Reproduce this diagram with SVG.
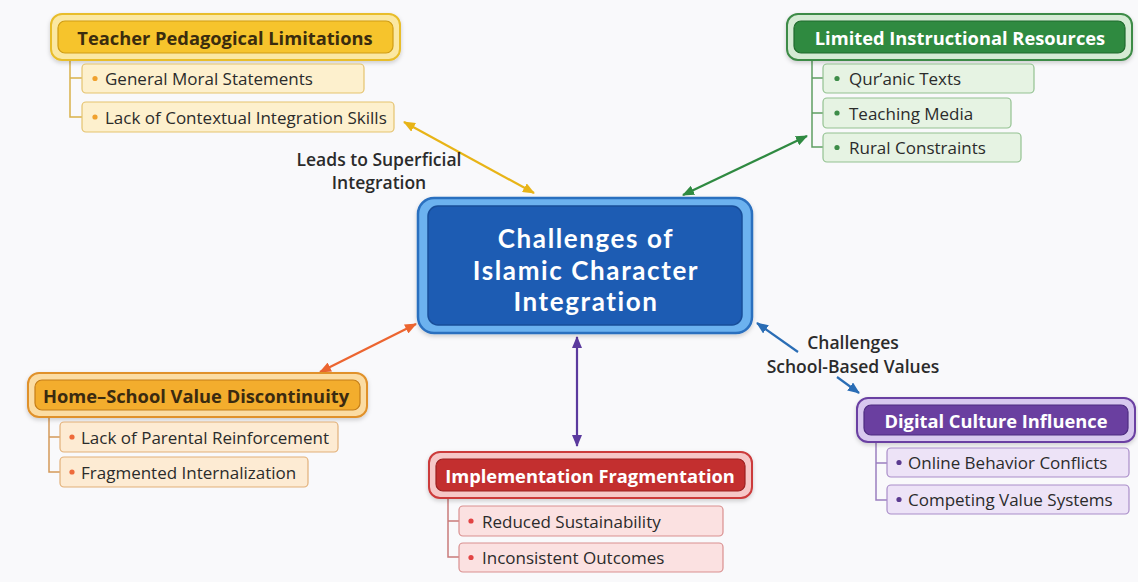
<svg xmlns="http://www.w3.org/2000/svg" width="1138" height="582" viewBox="0 0 1138 582">
<defs>
<style>
.t{font-family:"Open Sans","Liberation Sans",sans-serif}
.h{font-size:18.3px;font-weight:700;text-anchor:middle;dominant-baseline:central}
.s{font-size:17px;font-weight:400;fill:#2b2b2b;dominant-baseline:central}
.lbl{font-size:17.5px;font-weight:600;fill:#2b2b2b;text-anchor:middle}
.c{font-family:Lato,"Open Sans",sans-serif;font-size:26px;font-weight:700;letter-spacing:1.6px;fill:#ffffff;text-anchor:middle}
.br{fill:none;stroke-width:1.5}
.cn{fill:none;stroke-width:2.2}
</style>
<filter id="sh" x="-10%" y="-20%" width="120%" height="150%">
<feDropShadow dx="0" dy="2" stdDeviation="2" flood-color="#000" flood-opacity="0.18"/>
</filter>
<marker id="aY" viewBox="0 0 12 10" refX="11" refY="5" markerWidth="12" markerHeight="10" markerUnits="userSpaceOnUse" orient="auto-start-reverse"><path d="M0,0 L12,5 L0,10 Z" fill="#e8b417"/></marker>
<marker id="aG" viewBox="0 0 12 10" refX="11" refY="5" markerWidth="12" markerHeight="10" markerUnits="userSpaceOnUse" orient="auto-start-reverse"><path d="M0,0 L12,5 L0,10 Z" fill="#2f8a41"/></marker>
<marker id="aO" viewBox="0 0 12 10" refX="11" refY="5" markerWidth="12" markerHeight="10" markerUnits="userSpaceOnUse" orient="auto-start-reverse"><path d="M0,0 L12,5 L0,10 Z" fill="#ec6530"/></marker>
<marker id="aP" viewBox="0 0 12 10" refX="11" refY="5" markerWidth="12" markerHeight="10" markerUnits="userSpaceOnUse" orient="auto-start-reverse"><path d="M0,0 L12,5 L0,10 Z" fill="#5b3a9e"/></marker>
<marker id="aB" viewBox="0 0 12 10" refX="11" refY="5" markerWidth="12" markerHeight="10" markerUnits="userSpaceOnUse" orient="auto-start-reverse"><path d="M0,0 L12,5 L0,10 Z" fill="#2a6db5"/></marker>
</defs>
<rect x="0" y="0" width="1138" height="582" fill="#f9f9fb"/>

<g id="connectors">
<line class="cn" x1="404" y1="122" x2="534" y2="193" stroke="#e8b417" marker-start="url(#aY)" marker-end="url(#aY)"/>
<line class="cn" x1="807" y1="136" x2="683" y2="195" stroke="#2f8a41" marker-start="url(#aG)" marker-end="url(#aG)"/>
<line class="cn" x1="320" y1="372" x2="416" y2="324" stroke="#ec6530" marker-start="url(#aO)" marker-end="url(#aO)"/>
<line class="cn" x1="577" y1="337" x2="577" y2="446" stroke="#5b3a9e" marker-start="url(#aP)" marker-end="url(#aP)"/>
<line class="cn" x1="798" y1="352" x2="757" y2="323" stroke="#2a6db5" marker-end="url(#aB)"/>
<line class="cn" x1="837" y1="377" x2="859" y2="393" stroke="#2a6db5" marker-end="url(#aB)"/>
<text class="t lbl" x="379" y="166">Leads to Superficial</text>
<text class="t lbl" x="379" y="189">Integration</text>
<text class="t lbl" x="853" y="349">Challenges</text>
<text class="t lbl" x="853" y="373">School-Based Values</text>
</g>

<g id="center">
<rect x="418" y="198" width="334" height="135" rx="16" fill="#6cb2ef" stroke="#2a6fbf" stroke-width="2.5" filter="url(#sh)"/>
<rect x="428" y="206" width="314" height="119" rx="10" fill="#1d5cb3" stroke="#174d99" stroke-width="1.5"/>
<text class="c" x="586" y="248">Challenges of</text>
<text class="c" x="586" y="279.5">Islamic Character</text>
<text class="c" x="586" y="311">Integration</text>
</g>

<g id="teacher">
<path class="br" d="M70,60 V117 H82 M70,78 H82" stroke="#d9b14a"/>
<rect x="51" y="14" width="349" height="46" rx="11" fill="#fbe8a2" stroke="#e8bd2c" stroke-width="2" filter="url(#sh)"/>
<rect x="58" y="21" width="335" height="32" rx="7" fill="#f6c42c" stroke="#cf9c14" stroke-width="1.2"/>
<text class="t h" x="225" y="37.5" fill="#3a2c0e">Teacher Pedagogical Limitations</text>
<rect x="82" y="64" width="282" height="29" rx="4" fill="#fdf0cd" stroke="#e5c36f" stroke-width="1.2"/>
<circle cx="95" cy="78.5" r="2.6" fill="#f0a12e"/>
<text class="t s" x="105" y="78.5">General Moral Statements</text>
<rect x="82" y="102" width="312" height="30" rx="4" fill="#fdf0cd" stroke="#e5c36f" stroke-width="1.2"/>
<circle cx="95" cy="117" r="2.6" fill="#f0a12e"/>
<text class="t s" x="105" y="117">Lack of Contextual Integration Skills</text>
</g>

<g id="resources">
<path class="br" d="M812,60 V147 H823 M812,78 H823 M812,113 H823" stroke="#5f9e63"/>
<rect x="787" y="14" width="345" height="46" rx="11" fill="#d5ebd4" stroke="#3d8b47" stroke-width="2" filter="url(#sh)"/>
<rect x="794" y="21" width="331" height="32" rx="7" fill="#2f8a40" stroke="#1f6a2d" stroke-width="1.2"/>
<text class="t h" x="960" y="37.5" fill="#ffffff">Limited Instructional Resources</text>
<rect x="823" y="64" width="211" height="29" rx="4" fill="#e6f3e3" stroke="#93c291" stroke-width="1.2"/>
<circle cx="837" cy="78.5" r="2.6" fill="#3d8c48"/>
<text class="t s" x="849" y="78.5">Qur’anic Texts</text>
<rect x="823" y="98" width="188" height="30" rx="4" fill="#e6f3e3" stroke="#93c291" stroke-width="1.2"/>
<circle cx="837" cy="113" r="2.6" fill="#3d8c48"/>
<text class="t s" x="849" y="113">Teaching Media</text>
<rect x="823" y="133" width="198" height="29" rx="4" fill="#e6f3e3" stroke="#93c291" stroke-width="1.2"/>
<circle cx="837" cy="147.5" r="2.6" fill="#3d8c48"/>
<text class="t s" x="849" y="147.5">Rural Constraints</text>
</g>

<g id="home">
<path class="br" d="M49,417 V472 H60 M49,437 H60" stroke="#d4995a"/>
<rect x="28" y="373" width="339" height="44" rx="11" fill="#fbdca3" stroke="#e0912c" stroke-width="2" filter="url(#sh)"/>
<rect x="35" y="380" width="325" height="30" rx="7" fill="#f3ad2d" stroke="#c57e18" stroke-width="1.2"/>
<text class="t h" x="196" y="395.5" fill="#3a2a10">Home–School Value Discontinuity</text>
<rect x="60" y="422" width="278" height="30" rx="4" fill="#fdebd3" stroke="#e2b079" stroke-width="1.2"/>
<circle cx="72" cy="437" r="2.6" fill="#ee6a3a"/>
<text class="t s" x="81" y="437">Lack of Parental Reinforcement</text>
<rect x="60" y="457" width="248" height="30" rx="4" fill="#fdebd3" stroke="#e2b079" stroke-width="1.2"/>
<circle cx="72" cy="472" r="2.6" fill="#ee6a3a"/>
<text class="t s" x="81" y="472">Fragmented Internalization</text>
</g>

<g id="implementation">
<path class="br" d="M448,498 V557 H459 M448,521 H459" stroke="#c97b7b"/>
<rect x="429" y="452" width="323" height="46" rx="11" fill="#f6c7c7" stroke="#cc3b3b" stroke-width="2" filter="url(#sh)"/>
<rect x="436" y="459" width="309" height="32" rx="7" fill="#c32f2f" stroke="#9c2020" stroke-width="1.2"/>
<text class="t h" x="590" y="475.5" fill="#ffffff">Implementation Fragmentation</text>
<rect x="459" y="506" width="264" height="30" rx="4" fill="#fbe1e1" stroke="#d98f8f" stroke-width="1.2"/>
<circle cx="471" cy="521" r="2.6" fill="#e24444"/>
<text class="t s" x="482" y="521">Reduced Sustainability</text>
<rect x="459" y="543" width="264" height="29" rx="4" fill="#fbe1e1" stroke="#d98f8f" stroke-width="1.2"/>
<circle cx="471" cy="557.5" r="2.6" fill="#e24444"/>
<text class="t s" x="482" y="557.5">Inconsistent Outcomes</text>
</g>

<g id="digital">
<path class="br" d="M876,442 V500 H887 M876,463 H887" stroke="#9a7fc0"/>
<rect x="857" y="398" width="278" height="44" rx="11" fill="#d8c8ef" stroke="#6b41a2" stroke-width="2" filter="url(#sh)"/>
<rect x="864" y="405" width="264" height="30" rx="7" fill="#6a3fa0" stroke="#4d2b80" stroke-width="1.2"/>
<text class="t h" x="996" y="420.5" fill="#ffffff">Digital Culture Influence</text>
<rect x="887" y="448" width="242" height="29" rx="4" fill="#ede3f7" stroke="#a98dc9" stroke-width="1.2"/>
<circle cx="899" cy="462.5" r="2.6" fill="#5a3a90"/>
<text class="t s" x="908" y="462.5">Online Behavior Conflicts</text>
<rect x="887" y="485" width="242" height="29" rx="4" fill="#ede3f7" stroke="#a98dc9" stroke-width="1.2"/>
<circle cx="899" cy="499.5" r="2.6" fill="#5a3a90"/>
<text class="t s" x="908" y="499.5">Competing Value Systems</text>
</g>
</svg>
